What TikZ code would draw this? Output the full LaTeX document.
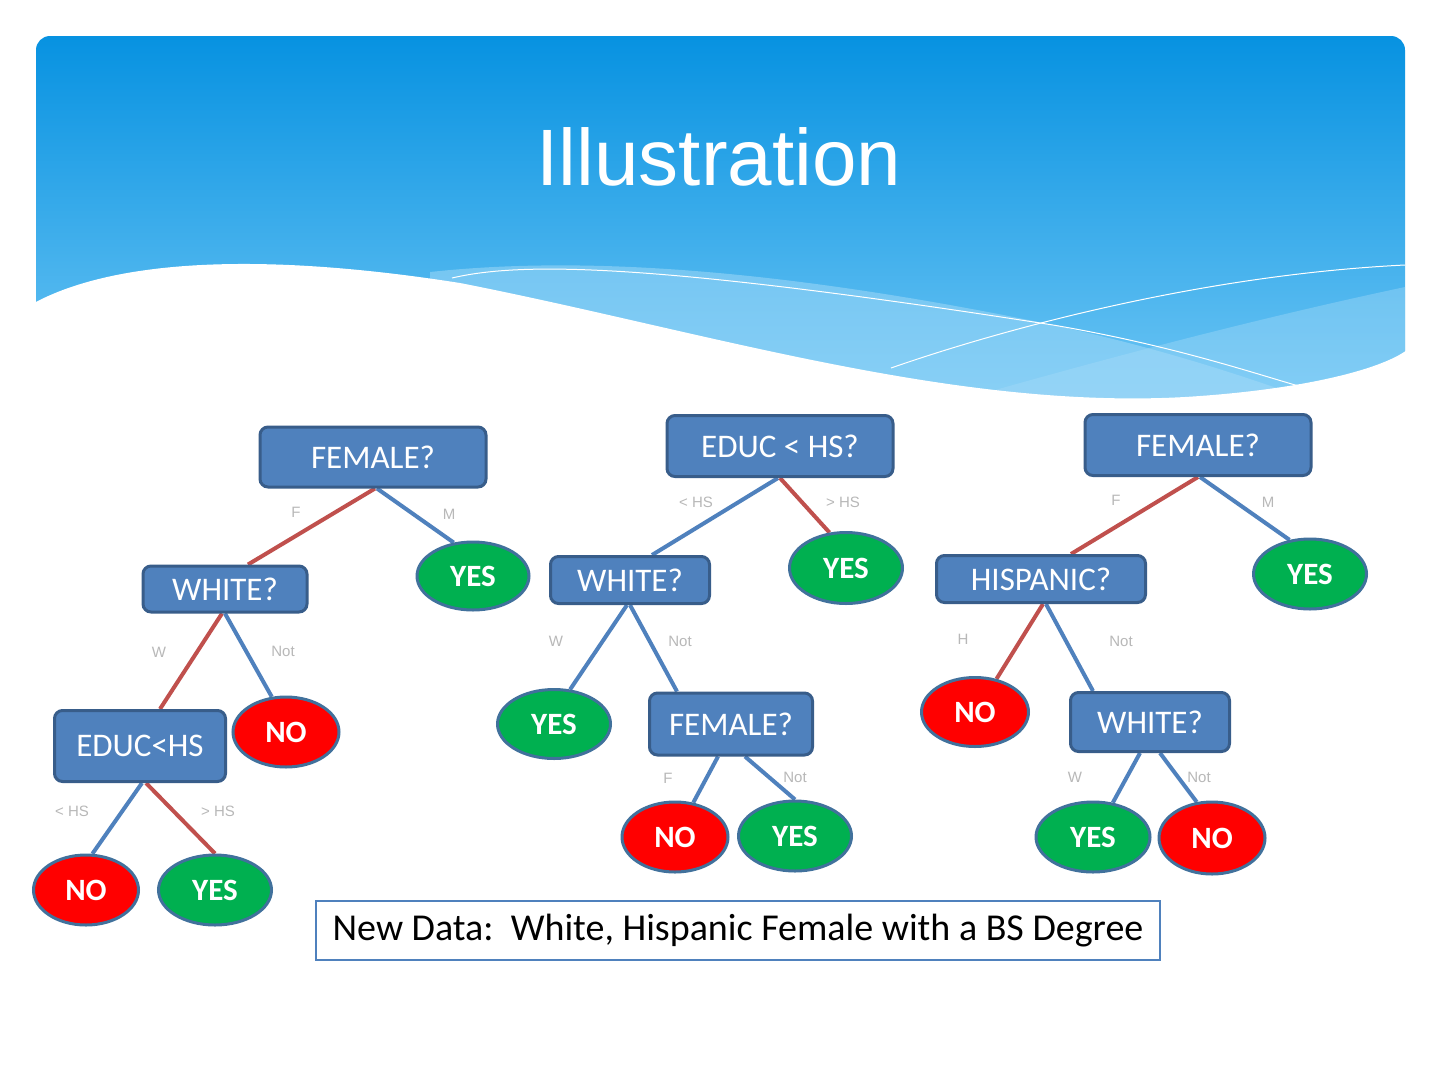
\documentclass[tikz,border=0pt]{standalone}
\usepackage{fontspec}
\setmainfont{Carlito}
\newfontfamily\arialf{Liberation Sans}
\usetikzlibrary{shapes.geometric,backgrounds}
\pgfdeclarelayer{edgelayer}
\pgfsetlayers{background,edgelayer,main}
\definecolor{boxblue}{HTML}{4F81BD}
\definecolor{boxedge}{HTML}{385D8A}
\definecolor{ovalgreen}{HTML}{00B050}
\definecolor{ovalred}{HTML}{FF0000}
\definecolor{ovaledge}{HTML}{41719C}
\definecolor{edgered}{HTML}{C0504D}
\definecolor{edgeblue}{HTML}{4F81BD}
\definecolor{lblgray}{HTML}{B8B8B8}
\definecolor{hdtop}{HTML}{0792E1}
\definecolor{hdbot}{HTML}{6CC5F4}
\definecolor{bandc}{HTML}{A6DBF8}
\begin{document}
\begin{tikzpicture}[x=1pt,y=-1pt,
  qbox/.style={draw=boxedge, line width=3pt, fill=boxblue, rounded corners=8pt, text=white, font=\fontsize{33}{36}\selectfont, inner sep=0pt},
  leaf/.style={ellipse, draw=ovaledge, line width=3pt, text=white, font=\bfseries\fontsize{31}{34}\selectfont, inner sep=0pt, minimum width=110pt, minimum height=69pt},
  yesleaf/.style={leaf, fill=ovalgreen},
  noleaf/.style={leaf, fill=ovalred},
  redl/.style={draw=edgered, line width=4pt},
  bluel/.style={draw=edgeblue, line width=4pt},
  lbl/.style={text=lblgray, font=\arialf\fontsize{15}{17}\selectfont, inner sep=0pt}]
\useasboundingbox (0,0) rectangle (1440,1080);
\begin{pgfonlayer}{background}
\fill[white] (0,0) rectangle (1440,1080);
% header
\shade[top color=hdtop, bottom color=hdbot, rounded corners=14pt] (36,400) -- (36,36) -- (1405,36) -- (1405,400) -- cycle;
\fill[bandc, opacity=0.5] (430,272) .. controls (560,258) and (750,262) .. (1053,325) .. controls (1160,348) and (1250,378) .. (1310,400) -- (430,400) -- cycle;
\fill[bandc, opacity=0.4] (1405,287) .. controls (1250,320) and (1100,360) .. (960,400) -- (1405,400) -- cycle;
\fill[white] (34,303) .. controls (110,262) and (250,250) .. (460,283) .. controls (700,330) and (950,410) .. (1185,397) .. controls (1300,390) and (1380,370) .. (1407,350) -- (1407,420) -- (34,420) -- cycle;
\draw[white, line width=1pt] (452,278) .. controls (520,262) and (650,262) .. (1053,325) .. controls (1170,345) and (1250,372) .. (1302,387);
\draw[white, line width=1pt] (891,368) .. controls (1000,330) and (1200,275) .. (1405,265);
\end{pgfonlayer}
\node[text=white, font=\arialf\fontsize{80}{90}\selectfont, anchor=base, inner sep=0pt] (title) at (719,185) {Illustration};

% tree 1
\node[qbox, minimum width=226pt, minimum height=60pt] (t1f) at (373,457) {FEMALE?};
\node[qbox, minimum width=164pt, minimum height=46pt] (t1w) at (225,589) {WHITE?};
\node[yesleaf, minimum width=112pt, minimum height=68pt] (t1y) at (473,576) {YES};
\node[qbox, minimum width=171pt, minimum height=71pt] (t1e) at (140,746) {EDUC<HS};
\node[noleaf, minimum width=106pt, minimum height=70pt] (t1n) at (286,732) {NO};
\node[noleaf, minimum width=105pt, minimum height=70pt] (t1nn) at (86,890) {NO};
\node[yesleaf, minimum width=113pt, minimum height=70pt] (t1yy) at (215,890) {YES};
\node[lbl] (l1a) at (296,512) {F};
\node[lbl] (l1b) at (449,514) {M};
\node[lbl] (l1c) at (159,652) {W};
\node[lbl] (l1d) at (283,651) {Not};
\node[lbl] (l1e) at (72,811) {< HS};
\node[lbl] (l1f) at (218,811) {> HS};

% tree 2
\node[qbox, minimum width=226pt, minimum height=61pt] (t2e) at (780,446) {EDUC < HS?};
\node[qbox, minimum width=159pt, minimum height=47pt] (t2w) at (630,580) {WHITE?};
\node[yesleaf, minimum width=113pt, minimum height=71pt] (t2y) at (846,568) {YES};
\node[yesleaf, minimum width=113pt, minimum height=69pt] (t2yl) at (554,724) {YES};
\node[qbox, minimum width=163pt, minimum height=62pt] (t2f) at (731,724) {FEMALE?};
\node[noleaf, minimum width=106pt, minimum height=70pt] (t2n) at (675,837) {NO};
\node[yesleaf, minimum width=113pt, minimum height=70pt] (t2yy) at (795,836) {YES};
\node[lbl] (l2a) at (696,502) {< HS};
\node[lbl] (l2b) at (843,502) {> HS};
\node[lbl] (l2c) at (556,641) {W};
\node[lbl] (l2d) at (680,641) {Not};
\node[lbl] (l2e) at (668,778) {F};
\node[lbl] (l2f) at (795,777) {Not};

% tree 3
\node[qbox, minimum width=226pt, minimum height=61pt] (t3f) at (1198,445) {FEMALE?};
\node[qbox, minimum width=209pt, minimum height=47pt] (t3h) at (1041,579) {HISPANIC?};
\node[yesleaf, minimum width=113pt, minimum height=70pt] (t3y) at (1310,574) {YES};
\node[noleaf, minimum width=107pt, minimum height=69pt] (t3n) at (975,712) {NO};
\node[qbox, minimum width=159pt, minimum height=59pt] (t3w) at (1150,722) {WHITE?};
\node[yesleaf, minimum width=114pt, minimum height=70pt] (t3yy) at (1093,837) {YES};
\node[noleaf, minimum width=106pt, minimum height=72pt] (t3nn) at (1212,838) {NO};
\node[lbl] (l3a) at (1116,500) {F};
\node[lbl] (l3b) at (1268,502) {M};
\node[lbl] (l3c) at (963,639) {H};
\node[lbl] (l3d) at (1121,641) {Not};
\node[lbl] (l3e) at (1075,777) {W};
\node[lbl] (l3f) at (1199,777) {Not};

% new data box
\node[draw=boxblue, line width=2.5pt, fill=white, minimum width=844pt, minimum height=59pt, inner sep=0pt, font=\fontsize{38}{42}\selectfont, text=black] (nd) at (738,930.5) {New Data:\ \ White, Hispanic Female with a BS Degree};

\begin{pgfonlayer}{edgelayer}
\draw[redl] ([xshift=2pt]t1f.south) -- ([xshift=23pt]t1w.north);
\draw[bluel] ([xshift=4pt]t1f.south) -- (t1y.120);
\draw[redl] ([xshift=-3pt]t1w.south) -- ([xshift=20pt]t1e.north);
\draw[bluel] (t1w.south) -- (t1n.112);
\draw[bluel] ([xshift=2pt]t1e.south) -- (t1nn.80);
\draw[redl] ([xshift=6pt]t1e.south) -- (t1yy.90);

\draw[bluel] ([xshift=-2pt]t2e.south) -- ([xshift=22pt]t2w.north);
\draw[redl] (t2e.south) -- (t2y.115);
\draw[bluel] ([xshift=-3pt]t2w.south) -- (t2yl.65);
\draw[bluel] (t2w.south) -- ([xshift=-54pt]t2f.north);
\draw[bluel] ([xshift=-13pt]t2f.south) -- (t2n.62);
\draw[bluel] ([xshift=14pt]t2f.south) -- (t2yy.90);

\draw[redl] (t3f.south) -- ([xshift=30pt]t3h.north);
\draw[bluel] ([xshift=2pt]t3f.south) -- (t3y.121);
\draw[redl] ([xshift=2pt]t3h.south) -- (t3n.57);
\draw[bluel] ([xshift=5pt]t3h.south) -- ([xshift=-57pt]t3w.north);
\draw[bluel] ([xshift=-10pt]t3w.south) -- (t3yy.60);
\draw[bluel] ([xshift=10pt]t3w.south) -- (t3nn.113);
\end{pgfonlayer}
\end{tikzpicture}
\end{document}
